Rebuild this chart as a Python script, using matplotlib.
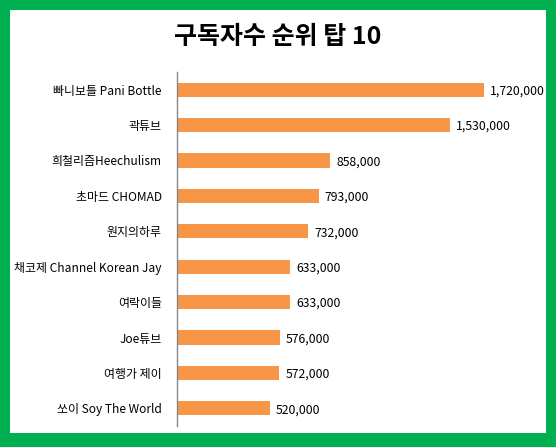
import matplotlib
matplotlib.use('Agg')
import matplotlib.pyplot as plt
from matplotlib.patches import Rectangle

plt.rcParams['font.family'] = ['Noto Sans CJK KR', 'DejaVu Sans']

# channels, top to bottom
channels = ['빠니보틀 Pani Bottle', '곽튜브', '희철리즘Heechulism', '초마드 CHOMAD', '원지의하루',
            '채코제 Channel Korean Jay', '여락이들', 'Joe튜브', '여행가 제이', '쏘이 Soy The World']
subscribers = [1720000, 1530000, 858000, 793000, 732000, 633000, 633000, 576000, 572000, 520000]

W, H = 556, 447
fig = plt.figure(figsize=(W / 100, H / 100), dpi=100, facecolor='#00B050')
# white chart area inside the green frame
fig.patches.append(Rectangle((10 / W, (H - 433) / H), 536 / W, 423 / H,
                             transform=fig.transFigure, facecolor='white', edgecolor='none', zorder=-5))

ax = fig.add_axes([177 / W, (H - 426) / H, 369 / W, 354 / H])
ax.set_facecolor('none')
ax.set_zorder(5)

ypos = list(range(len(channels)))
bars = ax.barh(ypos, subscribers, height=0.4, color='#F79646')
ax.set_ylim(len(channels) - 0.5, -0.5)
ax.set_xlim(0, 369 / 178.5 * 1e6)

ax.set_yticks(ypos)
ax.set_yticklabels(channels, fontsize=8.6)
ax.tick_params(axis='y', length=0, pad=11)
ax.set_xticks([])
for side in ['top', 'right', 'bottom']:
    ax.spines[side].set_visible(False)
ax.spines['left'].set_color('#868686')
ax.spines['left'].set_linewidth(1)

for b, v in zip(bars, subscribers):
    ax.annotate(f'{v:,}', (b.get_width(), b.get_y() + b.get_height() / 2),
                xytext=(4.5, -1), textcoords='offset points', va='center', ha='left', fontsize=8.8,
                annotation_clip=False)

fig.text(0.5, (H - 37) / H, '구독자수 순위 탑 10', ha='center', va='center',
         fontsize=18, fontweight='bold')

fig.savefig('out.png', dpi=100, facecolor=fig.get_facecolor())
